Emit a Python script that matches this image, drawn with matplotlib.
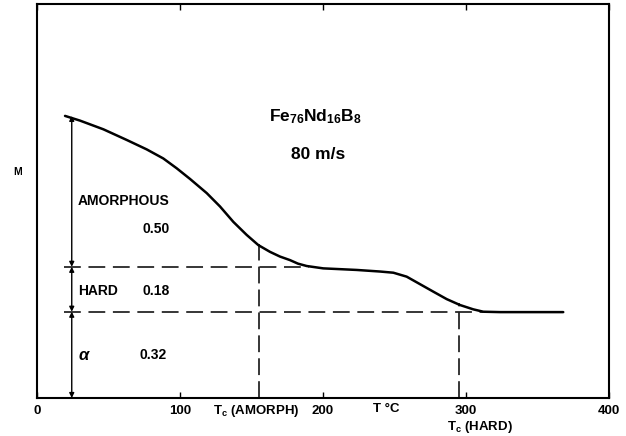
import matplotlib
matplotlib.use("Agg")
import matplotlib.pyplot as plt
import matplotlib.transforms as mtransforms

plt.rcParams['font.family'] = ['Liberation Sans', 'DejaVu Sans']
plt.rcParams['font.weight'] = 'bold'
plt.rcParams['mathtext.fontset'] = 'custom'
plt.rcParams['mathtext.rm'] = 'Liberation Sans:bold'
plt.rcParams['mathtext.bf'] = 'Liberation Sans:bold'
plt.rcParams['mathtext.it'] = 'Liberation Sans:bold:italic'

# Magnetization curve M(T), arbitrary units (bottom of frame = 0)
temp = [19.6, 30.1, 46.4, 62.7, 76.7, 88.3, 97.7, 107.0, 118.7, 128.0, 137.3,
        146.6, 154.8, 162.9, 169.9, 176.9, 182.5, 188.6, 200.2, 212.0, 223.6,
        239.9, 249.2, 258.5, 267.8, 277.1, 286.5, 295.8, 305.1, 312.1, 323.8, 368.0]
magn = [0.716, 0.704, 0.682, 0.655, 0.631, 0.608, 0.583, 0.556, 0.520, 0.486, 0.447,
        0.414, 0.388, 0.371, 0.359, 0.350, 0.341, 0.335, 0.329, 0.327, 0.325,
        0.321, 0.318, 0.308, 0.289, 0.270, 0.251, 0.236, 0.225, 0.219, 0.218, 0.218]

# phase boundaries
m_top = 0.716
m_hard = 0.333
m_alpha = 0.219
tc_amorph = 155
tc_hard = 295
t_arrow = 24.3

xticks = [0, 100, 200, 300, 400]
xtick_labels = ['0', '100', '200', '300', '400']

fig = plt.figure(figsize=(6.26, 4.36), dpi=100)
ax = fig.add_axes([37/626, 38/436, 572/626, 394/436])
ax.set_xlim(0, 400)
ax.set_ylim(0, 1)

ax.plot(temp, magn, color='black', lw=1.8, solid_capstyle='round',
        solid_joinstyle='round')

# dashed guide lines
ax.plot([19, 190], [m_hard, m_hard], color='black', lw=1.1, dashes=(11, 5))
ax.plot([19, 312], [m_alpha, m_alpha], color='black', lw=1.1, dashes=(11, 5))
ax.plot([tc_amorph, tc_amorph], [0, 0.390], color='black', lw=1.1, dashes=(11, 4))
ax.plot([tc_hard, tc_hard], [0, 0.240], color='black', lw=1.1, dashes=(11, 4))

# double-headed arrows
for y0, y1 in [(0, m_alpha), (m_alpha, m_hard), (m_hard, m_top)]:
    ax.annotate('', xy=(t_arrow, y1), xytext=(t_arrow, y0),
                arrowprops=dict(arrowstyle='<|-|>', color='black', lw=1.0,
                                mutation_scale=7, shrinkA=0, shrinkB=0))

# texts
ax.text(195, 0.713, r'$\mathbf{Fe}_{\mathbf{76}}\mathbf{Nd}_{\mathbf{16}}\mathbf{B}_{\mathbf{8}}$',
        ha='center', va='center', fontsize=12.5)
ax.text(196.5, 0.617, '80 m/s', ha='center', va='center', fontsize=12.5)
ax.text(28.5, 0.50, 'AMORPHOUS', ha='left', va='center', fontsize=10)
ax.text(73.7, 0.429, '0.50', ha='left', va='center', fontsize=10)
ax.text(28.5, 0.272, 'HARD', ha='left', va='center', fontsize=10)
ax.text(73.5, 0.272, '0.18', ha='left', va='center', fontsize=10)
ax.text(29.0, 0.109, '\u03b1', ha='left', va='center', fontsize=12, fontstyle='italic')
ax.text(72, 0.109, '0.32', ha='left', va='center', fontsize=10)

trans_y = mtransforms.blended_transform_factory(fig.transFigure, ax.transData)
fig.text(18/626, 0.574, 'M', ha='center', va='center', fontsize=7.5,
         transform=trans_y)

ax.set_yticks([])
ax.set_xticks(xticks)
ax.set_xticklabels(xtick_labels, fontsize=9.5)
ax.tick_params(axis='x', direction='in', length=4, width=1, top=True, pad=5)

trans_x = mtransforms.blended_transform_factory(ax.transData, fig.transFigure)
ax.text(153, 1 - 411/436, r'$\mathbf{T}_\mathbf{c}$ (AMORPH)', ha='center', va='center',
        fontsize=9.5, transform=trans_x)
ax.text(244, 1 - 409/436, 'T \u00b0C', ha='center', va='center', fontsize=9.5,
        transform=trans_x)
ax.text(310, 1 - 427/436, r'$\mathbf{T}_\mathbf{c}$ (HARD)', ha='center', va='center',
        fontsize=9.5, transform=trans_x)

for s in ax.spines.values():
    s.set_linewidth(1.5)

fig.savefig('out.png', dpi=100)
